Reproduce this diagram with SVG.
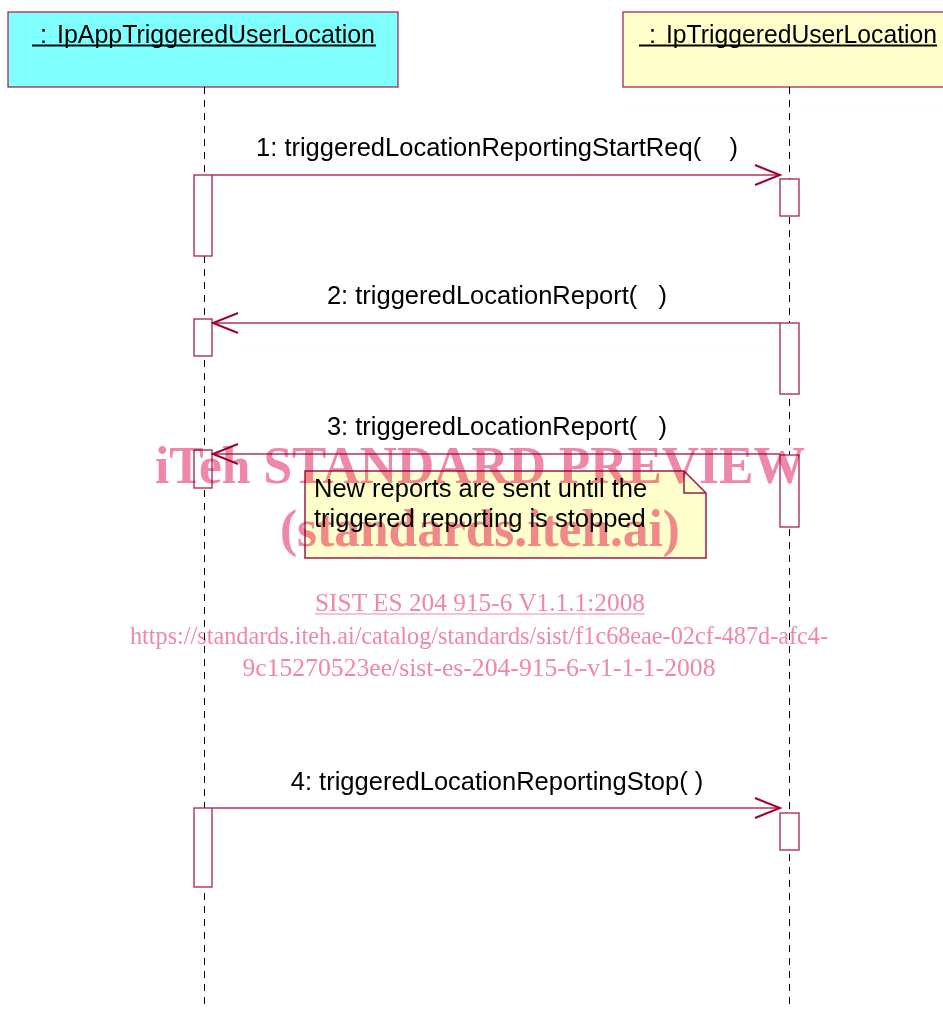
<svg xmlns="http://www.w3.org/2000/svg" width="943" height="1010" viewBox="0 0 943 1010">
<style>
.hdr{stroke:#A0184A;stroke-width:1.2}
.life{stroke:#000;stroke-width:1;stroke-dasharray:7 6;fill:none}
.act{fill:#fff;stroke:#A82050;stroke-width:1.3}
.msg{stroke:#B03060;stroke-width:1.3;fill:none}
.lbl{font-family:"Liberation Sans",Arial,sans-serif;font-size:25.5px;fill:#000}
.wm{font-family:"Liberation Serif","Times New Roman",serif;fill:#EF88A8}
</style>
<defs>
<marker id="open" markerUnits="userSpaceOnUse" viewBox="-27 -12 29 24" markerWidth="29" markerHeight="24" refX="0" refY="0" orient="auto" overflow="visible">
<path d="M-25,-10 L0,0 L-25,10" fill="none" stroke="#A0003A" stroke-width="2"/>
</marker>
</defs>
<rect width="943" height="1010" fill="#fff"/>
<g id="node-app">
<rect class="hdr" x="8" y="12" width="390" height="75" fill="#80FFFF"/>
<text class="lbl" x="40" y="43">:</text>
<text class="lbl" x="57" y="43" textLength="318" lengthAdjust="spacingAndGlyphs">IpAppTriggeredUserLocation</text>
<line x1="32" y1="45.5" x2="376" y2="45.5" stroke="#000" stroke-width="2"/>
<line class="life" x1="204.5" y1="87" x2="204.5" y2="1010"/>
<rect class="act" x="194" y="175" width="18" height="81"/>
<rect class="act" x="194" y="319" width="18" height="37"/>
<rect class="act" x="194" y="450" width="18" height="38"/>
<rect class="act" x="194" y="808" width="18" height="79"/>
</g>
<g id="node-tul">
<rect class="hdr" x="623" y="12" width="330" height="75" fill="#FFFFCC"/>
<text class="lbl" x="649" y="43">:</text>
<text class="lbl" x="666" y="43" textLength="271" lengthAdjust="spacingAndGlyphs">IpTriggeredUserLocation</text>
<line x1="639" y1="45.5" x2="937" y2="45.5" stroke="#000" stroke-width="2"/>
<line class="life" x1="789.5" y1="87" x2="789.5" y2="1010"/>
<rect class="act" x="780" y="179" width="19" height="37"/>
<rect class="act" x="780" y="323" width="19" height="71"/>
<rect class="act" x="780" y="455" width="19" height="72"/>
<rect class="act" x="780" y="813" width="19" height="37"/>
</g>
<g id="connectors">
<line class="msg" x1="212" y1="175" x2="780" y2="175" marker-end="url(#open)"/>
<text class="lbl" x="497" y="156" text-anchor="middle" xml:space="preserve">1: triggeredLocationReportingStartReq(    )</text>
<line class="msg" x1="780" y1="323" x2="213" y2="323" marker-end="url(#open)"/>
<text class="lbl" x="497" y="304" text-anchor="middle" xml:space="preserve">2: triggeredLocationReport(   )</text>
<line class="msg" x1="780" y1="454" x2="213" y2="454" marker-end="url(#open)"/>
<text class="lbl" x="497" y="435" text-anchor="middle" xml:space="preserve">3: triggeredLocationReport(   )</text>
<line class="msg" x1="212" y1="808" x2="780" y2="808" marker-end="url(#open)"/>
<text class="lbl" x="497" y="790" text-anchor="middle" xml:space="preserve">4: triggeredLocationReportingStop( )</text>
</g>
<g id="note">
<path d="M305,471 H684 L706,493 V558 H305 Z" fill="#FFFFCC" stroke="#A0184A" stroke-width="1.5"/>
<path d="M684,471 V493 H706" fill="none" stroke="#A0184A" stroke-width="1.5"/>
<text class="lbl" x="314" y="497">New reports are sent until the</text>
<text class="lbl" x="314" y="527">triggered reporting is stopped</text>
</g>
<g id="watermark" style="mix-blend-mode:multiply">
<text class="wm" x="155" y="483" font-size="52" font-weight="bold" textLength="650" lengthAdjust="spacingAndGlyphs">iTeh STANDARD PREVIEW</text>
<text class="wm" x="280" y="546" font-size="52" font-weight="bold" textLength="400" lengthAdjust="spacingAndGlyphs">(standards.iteh.ai)</text>
<text class="wm" x="480" y="611" font-size="26" text-anchor="middle" textLength="330" lengthAdjust="spacingAndGlyphs">SIST ES 204 915-6 V1.1.1:2008</text>
<line x1="315" y1="614" x2="645" y2="614" stroke="#EF88A8" stroke-width="1.2"/>
<text class="wm" x="479" y="644" font-size="26" text-anchor="middle" textLength="698" lengthAdjust="spacingAndGlyphs">https://standards.iteh.ai/catalog/standards/sist/f1c68eae-02cf-487d-afc4-</text>
<text class="wm" x="479" y="676" font-size="26" text-anchor="middle" textLength="473" lengthAdjust="spacingAndGlyphs">9c15270523ee/sist-es-204-915-6-v1-1-1-2008</text>
</g>
</svg>
